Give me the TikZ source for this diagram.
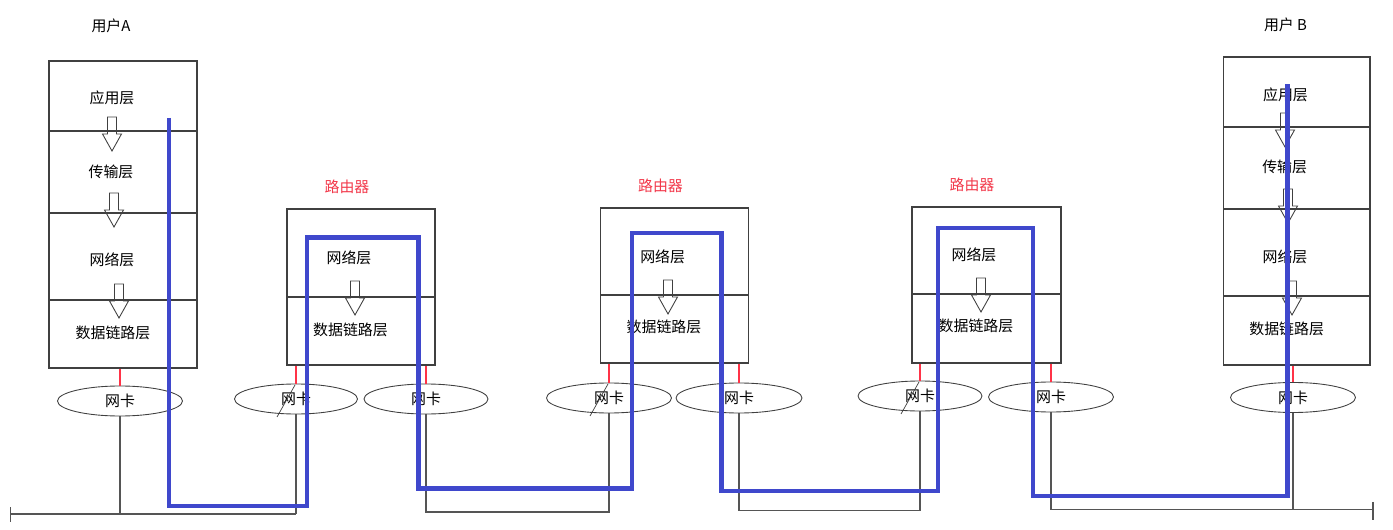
\documentclass[tikz,border=0pt]{standalone}
\usepackage{fontspec}
\usepackage{xcolor}
\usepackage{tikz}
\usetikzlibrary{positioning, arrows.meta, shapes.geometric}
\newfontfamily\cjk{Noto Sans CJK SC}
\definecolor{pathblue}{HTML}{3F48CC}
\definecolor{boxgray}{HTML}{404040}
\definecolor{dropgray}{HTML}{555555}
\definecolor{linkred}{HTML}{FF3347}
\definecolor{routerred}{HTML}{F2384A}

\begin{document}
\begin{tikzpicture}[x=0.02cm, y=-0.02cm,
    layer/.style={draw=boxgray, line width=0.6pt, minimum width=2.96cm, inner sep=0pt},
    lbl/.style={font=\cjk\fontsize{8.5}{10}\selectfont, inner sep=0pt},
    nic/.style={ellipse, draw=boxgray, line width=0.5pt, minimum width=2.5cm,
                minimum height=0.6cm, inner sep=0pt, font=\cjk\fontsize{8.5}{10}\selectfont},
    link/.style={draw=linkred, line width=0.7pt},
    drop/.style={draw=dropgray, line width=0.6pt},
    route/.style={draw=pathblue, line width=2.3pt},
    hollow/.pic={\draw[boxgray, line width=0.5pt] (-4.5,0) -- (4.5,0) -- (4.5,17) -- (9.5,17)
                 -- (0,34) -- (-9.5,17) -- (-4.5,17) -- cycle;}]
  \useasboundingbox (0,0) rectangle (1393,530);

  % user A
  \node[lbl] (userA) at (111,26) {用户A};
  \node[layer, minimum height=1.40cm] (aApp)   at (123,96) {};
  \node[layer, minimum height=1.64cm] (aTrans) at (123,172) {};
  \node[layer, minimum height=1.74cm] (aNet)   at (123,256.5) {};
  \node[layer, minimum height=1.36cm] (aLink)  at (123,334) {};
  \node[lbl] (aAppT)   at (112,98) {应用层};
  \node[lbl] (aTransT) at (111,172) {传输层};
  \node[lbl] (aNetT)   at (112,260) {网络层};
  \node[lbl] (aLinkT)  at (113,333) {数据链路层};
  \pic at (112,117) {hollow};
  \pic at (114,193) {hollow};
  \pic at (119,284) {hollow};

  % routers
  \node[lbl, text=routerred] (r1T) at (347,187) {路由器};
  \node[layer, minimum height=1.76cm] (r1Net)  at (361,253) {};
  \node[layer, minimum height=1.36cm] (r1Link) at (361,331) {};
  \node[lbl] (r1NetT)  at (349,258) {网络层};
  \node[lbl] (r1LinkT) at (350.5,330) {数据链路层};
  \pic at (355,281) {hollow};

  \node[lbl, text=routerred] (r2T) at (660.5,186) {路由器};
  \node[layer, minimum height=1.74cm] (r2Net)  at (674.7,251.5) {};
  \node[layer, minimum height=1.36cm] (r2Link) at (674.7,329) {};
  \node[lbl] (r2NetT)  at (662.7,257) {网络层};
  \node[lbl] (r2LinkT) at (664,327) {数据链路层};
  \pic at (668,280) {hollow};

  \node[lbl, text=routerred] (r3T) at (972,185) {路由器};
  \node[layer, minimum width=2.98cm, minimum height=1.74cm] (r3Net)  at (986.5,250.5) {};
  \node[layer, minimum width=2.98cm, minimum height=1.38cm] (r3Link) at (986.5,328.5) {};
  \node[lbl] (r3NetT)  at (974,255) {网络层};
  \node[lbl] (r3LinkT) at (976,326) {数据链路层};
  \pic at (981,278) {hollow};

  % user B
  \node[lbl] (userB) at (1285.5,25) {用户 B};
  \node[layer, minimum width=2.94cm, minimum height=1.40cm] (bApp)   at (1296.5,92) {};
  \node[layer, minimum width=2.94cm, minimum height=1.64cm] (bTrans) at (1296.5,168) {};
  \node[layer, minimum width=2.94cm, minimum height=1.74cm] (bNet)   at (1296.5,252.5) {};
  \node[layer, minimum width=2.94cm, minimum height=1.38cm] (bLink)  at (1296.5,330.5) {};
  \node[lbl] (bAppT)   at (1285.5,95) {应用层};
  \node[lbl] (bTransT) at (1284.7,167) {传输层};
  \node[lbl] (bNetT)   at (1285,257) {网络层};
  \node[lbl] (bLinkT)  at (1286.7,329) {数据链路层};
  \pic at (1285,113) {hollow};
  \pic at (1288,189) {hollow};
  \pic at (1292,281) {hollow};

  % network cards
  \node[nic] (nicA) at (120,401) {网卡};
  \node[nic, minimum width=2.46cm] (r1l) at (296,399) {网卡};
  \node[nic, minimum width=2.48cm] (r1r) at (426,399) {网卡};
  \node[nic] (r2l) at (609,398) {网卡};
  \node[nic, minimum width=2.52cm] (r2r) at (739,398) {网卡};
  \node[nic, minimum width=2.48cm] (r3l) at (920,396) {网卡};
  \node[nic] (r3r) at (1051,397) {网卡};
  \node[nic] (nicB) at (1293,397.5) {网卡};

  \draw[link] (nicA.north) -- (nicA.north |- aLink.south);
  \draw[link] (r1l.north) -- (r1l.north |- r1Link.south);
  \draw[link] (r1r.north) -- (r1r.north |- r1Link.south);
  \draw[link] (r2l.north) -- (r2l.north |- r2Link.south);
  \draw[link] (r2r.north) -- (r2r.north |- r2Link.south);
  \draw[link] (r3l.north) -- (r3l.north |- r3Link.south);
  \draw[link] (r3r.north) -- (r3r.north |- r3Link.south);
  \draw[link] (nicB.north) -- (nicB.north |- bLink.south);

  % stray strokes over the left cards
  \draw[boxgray, line width=0.4pt] ([shift={(-1,-14)}]r1l.center) -- ([shift={(-19,18)}]r1l.center);
  \draw[boxgray, line width=0.4pt] ([shift={(-1,-14)}]r2l.center) -- ([shift={(-19,18)}]r2l.center);
  \draw[boxgray, line width=0.4pt] ([shift={(-1,-14)}]r3l.center) -- ([shift={(-19,18)}]r3l.center);

  % cables
  \coordinate (bus1) at (10.7,514);
  \coordinate (bus2) at (0,512);
  \coordinate (bus3) at (0,510.5);
  \coordinate (bus4) at (1373,509.3);
  \draw[drop] ([yshift=0.14cm]bus1) -- ([yshift=-0.16cm]bus1);
  \draw[drop] (bus1) -- (r1l.south |- bus1);
  \draw[drop] (nicA.south) -- (nicA.south |- bus1);
  \draw[drop] (r1l.south) -- (r1l.south |- bus1);
  \draw[drop] (r1r.south) -- (r1r.south |- bus2) -- (r2l.south |- bus2) -- (r2l.south);
  \draw[drop] (r2r.south) -- (r2r.south |- bus3) -- (r3l.south |- bus3) -- (r3l.south);
  \draw[drop] (r3r.south) -- (r3r.south |- bus4) -- (bus4);
  \draw[drop] (nicB.south) -- (nicB.south |- bus4);
  \draw[drop] ([yshift=0.15cm]bus4) -- ([yshift=-0.21cm]bus4);

  % route of the data
  \draw[route] (169,118) |- (307,506) |- (418.5,237.5) |- (632,488.5) |- (721.5,233)
    |- (938,491) |- (1033,228) |- (1287.5,496) -- (1287.5,84);
\end{tikzpicture}
\end{document}
